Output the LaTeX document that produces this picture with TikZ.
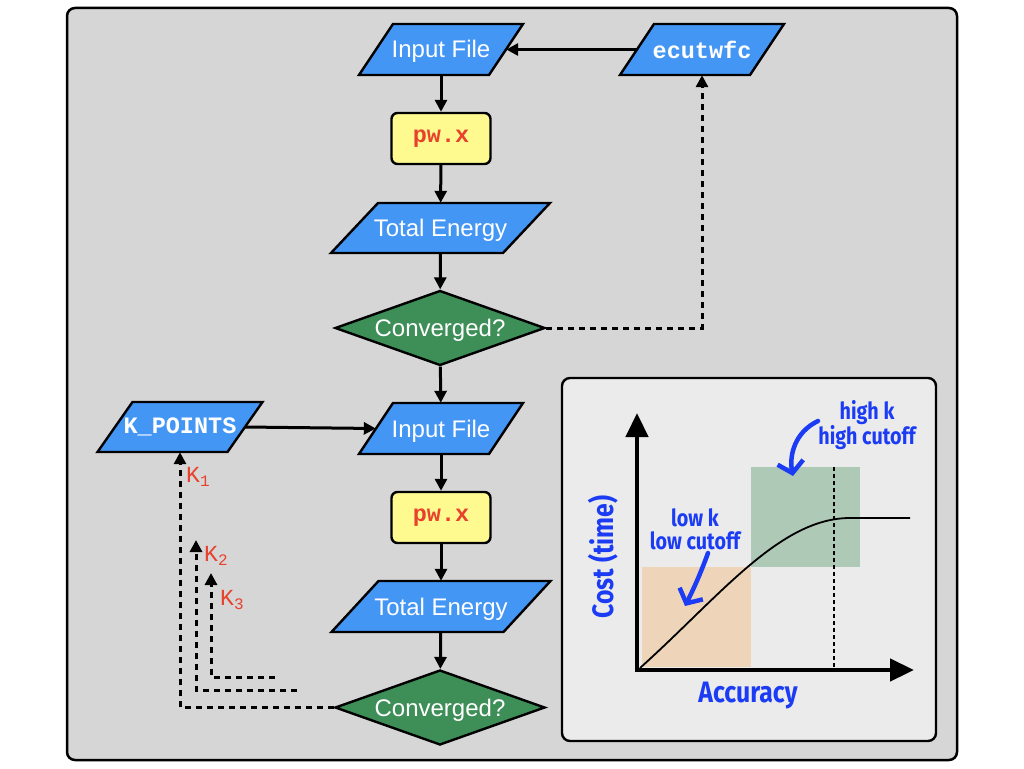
\documentclass[tikz,border=0pt]{standalone}
\usepackage{fontspec}
\setmainfont{Liberation Sans}
\setmonofont{Liberation Mono}
\newfontfamily\handfont[FakeStretch=0.84]{Fira Sans}
\usetikzlibrary{shapes.geometric,arrows.meta,calc}
\definecolor{bgGray}{HTML}{D6D6D6}
\definecolor{insetGray}{HTML}{EBEBEB}
\definecolor{paraBlue}{HTML}{4496F5}
\definecolor{procYellow}{HTML}{FEFA90}
\definecolor{decGreen}{HTML}{3E8E58}
\definecolor{codeRed}{HTML}{E8412C}
\definecolor{handBlue}{HTML}{1B3CF4}
\definecolor{peach}{HTML}{EED5B9}
\definecolor{sage}{HTML}{AFC9B7}
\newcommand\myPara[8]{%
  \filldraw[para] (#2-#4/2-#5/2, #3+#6/2) -- (#2+#4/2-#5/2, #3+#6/2) -- (#2+#4/2+#5/2, #3-#6/2) -- (#2-#4/2+#5/2, #3-#6/2) -- cycle;
  \node[#8, minimum width=#4, minimum height=#6] (#1) at (#2,#3) {#7};
}
\newcommand\ksub[2]{#1\raisebox{-4pt}{\fontsize{16}{16}\selectfont #2}}
\begin{document}
\begin{tikzpicture}[x=1pt,y=-1pt,
  flow/.style={line width=3pt, -{Triangle[length=12pt,width=12pt]}},
  dashflow/.style={flow, dash pattern=on 6pt off 5pt},
  para/.style={fill=paraBlue, draw=black, line width=2.4pt, line join=miter},
  paratext/.style={rectangle, inner sep=0pt, text=white, text height=17pt, text depth=0pt, font=\fontsize{24}{28}\selectfont},
  monotext/.style={rectangle, inner sep=0pt, text=white, font=\ttfamily\bfseries\fontsize{23.5}{26}\selectfont},
  proc/.style={rectangle, rounded corners=6pt, fill=procYellow, draw=black, line width=2.4pt,
    minimum width=99pt, minimum height=51pt, inner sep=0pt, text=codeRed,
    font=\ttfamily\bfseries\fontsize{23.5}{26}\selectfont},
  decide/.style={diamond, aspect=2.8, fill=decGreen, draw=black, line width=2.4pt,
    minimum width=210pt, minimum height=75pt, inner sep=0pt, text=white,
    text height=17pt, text depth=0pt, font=\fontsize{24}{28}\selectfont},
  klabel/.style={text=codeRed, inner sep=0pt, font=\ttfamily\fontsize{23}{26}\selectfont},
  hand/.style={text=handBlue, inner sep=0pt, align=center, font=\handfont\bfseries\fontsize{23.5}{23}\selectfont},
  handbig/.style={text=handBlue, inner sep=0pt, font=\handfont\bfseries\fontsize{29.5}{30}\selectfont},
  swoosh/.style={draw=handBlue, line width=4.5pt, line cap=round, -{Straight Barb[length=11pt,width=26pt,line width=4.5pt]}},
  axis/.style={line width=4.5pt, -{Triangle[length=24pt,width=22pt]}}
]
\useasboundingbox (0,0) rectangle (1024,768);
% outer frame
\filldraw[fill=bgGray, draw=black, line width=2.5pt, rounded corners=8pt] (67,8) rectangle (957,760);

% upper flow
\myPara{in1}{441}{49.5}{130}{34}{51}{Input File}{paratext}
\myPara{ecut}{702}{49.5}{130}{34}{51}{ecutwfc}{monotext}
\node[proc] (pw1) at (441,138.5) {pw.x};
\myPara{te1}{440.5}{228}{172}{47}{50}{Total Energy}{paratext}
\node[decide] (cv1) at (440,328) {Converged?};

% lower flow
\myPara{in2}{441}{428.5}{130}{34}{51}{Input File}{paratext}
\myPara{kp}{180}{427}{130}{35}{50}{K\_POINTS}{monotext}
\node[proc] (pw2) at (441,517.5) {pw.x};
\myPara{te2}{441}{606.5}{172}{47}{51}{Total Energy}{paratext}
\node[decide] (cv2) at (440,707.5) {Converged?};

% solid connectors
\draw[flow] (in1) -- (pw1);
\draw[flow] (pw1) -- (te1);
\draw[flow] (te1) -- (cv1);
\draw[flow] (cv1) -- (in2);
\draw[flow] (in2) -- (pw2);
\draw[flow] (pw2) -- (te2);
\draw[flow] (te2) -- (cv2);
\draw[flow] (ecut.west) -- (in1.east);
\draw[flow] (kp.east) -- (in2.west);

% dashed feedback
\draw[dashflow] (cv1.east) -| (ecut.south);
\draw[dashflow] (cv2.west) -| (kp.south);
\coordinate (k2s) at (297,690);
\coordinate (k2e) at (196,540);
\coordinate (k3s) at (275,677);
\coordinate (k3e) at (211,573);
\draw[dashflow] (k2s) -| (k2e);
\draw[dashflow] (k3s) -| (k3e);
\node[klabel, anchor=west] (k1l) at (186,477) {\ksub{K}{1}};
\node[klabel, anchor=west] (k2l) at (204,556) {\ksub{K}{2}};
\node[klabel, anchor=west] (k3l) at (220,600) {\ksub{K}{3}};

% inset
\filldraw[fill=insetGray, draw=black, line width=2.4pt, rounded corners=8pt] (562,378) rectangle (936,741);
\fill[peach] (642,567) rectangle (751,667);
\fill[sage] (751,467) rectangle (860,567);
\draw[line width=1.8pt, dash pattern=on 4pt off 3pt] (834,467) -- (834,668);
\draw[line width=1.8pt] (640,668) .. controls (720,596) and (780,518) .. (850,518) -- (910,518);
\coordinate (org) at (637,670);
\coordinate (ytip) at (637,413);
\coordinate (xtip) at (914,670);
\draw[axis] ($(org)+(0,2)$) -- (ytip);
\draw[axis] ($(org)+(-2,0)$) -- (xtip);
\node[hand] (hk) at (867,425) {high k\\high cutoff};
\node[hand] (lk) at (695,529) {low k\\low cutoff};
\node[handbig] (acc) at (748,696) {Accuracy};
\node[handbig, rotate=90] (cost) at (603,557) {Cost (time)};
\coordinate (s1a) at (818,421);
\coordinate (s1b) at (793,476);
\coordinate (s2a) at (708,553);
\coordinate (s2b) at (685,606);
\draw[swoosh] (s1a) .. controls (795,432) and (789,455) .. (s1b);
\draw[swoosh] (s2a) .. controls (700,575) and (693,590) .. (s2b);
\end{tikzpicture}
\end{document}
